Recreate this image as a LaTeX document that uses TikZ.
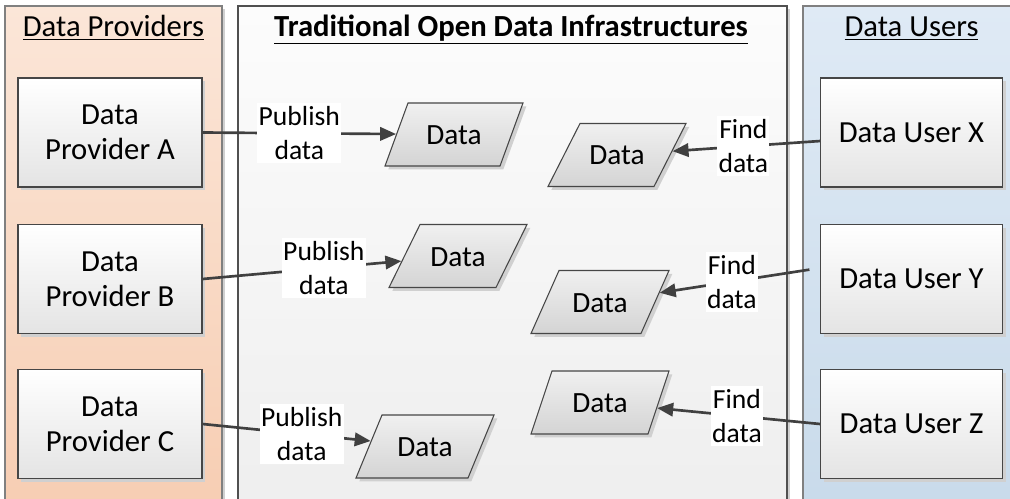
\documentclass[tikz,border=0pt]{standalone}
\usepackage{fontspec}
\setmainfont{Carlito}
\usetikzlibrary{shapes.geometric,arrows.meta,shadows}

\definecolor{linegrey}{RGB}{64,64,64}
\definecolor{edgegrey}{RGB}{70,70,70}
\definecolor{panelgrey}{RGB}{128,128,128}
\definecolor{midedge}{RGB}{80,80,80}
\definecolor{shadowgrey}{RGB}{208,208,208}
\definecolor{provtop}{RGB}{251,230,216}
\definecolor{provbot}{RGB}{247,205,178}
\definecolor{midtop}{RGB}{252,252,252}
\definecolor{midbot}{RGB}{238,238,238}
\definecolor{usertop}{RGB}{223,234,245}
\definecolor{userbot}{RGB}{200,218,234}
\definecolor{boxbot}{RGB}{228,228,228}
\definecolor{datatop}{RGB}{240,240,240}
\definecolor{databot}{RGB}{212,212,212}

\begin{document}
\begin{tikzpicture}[x=0.75pt,y=-0.75pt,
  font=\fontsize{23}{26.25}\selectfont,
  shadowed/.style={drop shadow={shadow xshift=2.5pt, shadow yshift=-2.5pt,
      fill=shadowgrey, opacity=1}},
  panel/.style={draw=panelgrey, line width=0.8pt, shadowed},
  heading/.style={anchor=base, inner sep=0pt},
  actor/.style={rectangle, draw=edgegrey, line width=0.8pt, top color=white,
      bottom color=boxbot, minimum width=#1, minimum height=81.75pt,
      align=center, shadowed},
  % parallelogram: #1 = base angle, #2 = horizontal padding of the body
  datashape/.style 2 args={trapezium, draw=edgegrey, line width=0.8pt,
      trapezium left angle=#1, trapezium right angle={180-#1},
      top color=datatop, bottom color=databot,
      font=\fontsize{22}{26}\selectfont,
      text width=46pt, align=center, text height=15pt, text depth=0pt,
      inner ysep=16.125pt, inner xsep=#2, shadowed},
  conn/.style={draw=linegrey, line width=2pt,
      -{Triangle[length=12pt,width=10pt]}},
  lbl/.style={fill=white, inner xsep=1pt, inner ysep=2.5pt, align=center,
      font=\fontsize{20.7}{25.5}\selectfont}]

\useasboundingbox (0,0) rectangle (1010,499);
\clip (0,0) rectangle (1010,499);

% swim lanes
\draw[panel, top color=provtop, bottom color=provbot] (5,6) rectangle (222,520);
\draw[panel, draw=midedge, top color=midtop, bottom color=midbot] (238,6) rectangle (787,520);
\draw[panel, top color=usertop, bottom color=userbot] (803,6) rectangle (1030,520);

\node[heading] (hprov) at (113.5,37) {\underline{Data Providers}};
\node[heading] (hmid)  at (511,37) {\bfseries\underline{Traditional Open Data Infrastructures}};
\node[heading] (huser) at (911.5,37) {\underline{Data Users}};

% providers and users
\node[actor=138pt] (A) at (110,132.5) {Data\\Provider A};
\node[actor=138pt] (B) at (110,279)   {Data\\Provider B};
\node[actor=138pt] (C) at (110,424)   {Data\\Provider C};
\node[actor=136.5pt] (X) at (911.5,132.5) {Data User X};
\node[actor=136.5pt] (Y) at (911.5,279)   {Data User Y};
\node[actor=136.5pt] (Z) at (911.5,424)   {Data User Z};

% published data sets
\node[datashape={69.95}{11.5pt}]  (P1) at (454,134.5) {Data};
\node[datashape={63.07}{4.75pt}]  (P2) at (617,155)   {Data};
\node[datashape={63.8}{5.5pt}]    (P3) at (458,256)   {Data};
\node[datashape={66.04}{7.75pt}]  (P4) at (600,302)   {Data};
\node[datashape={71.57}{13pt}]    (P5) at (600,402.5) {Data};
\node[datashape={67.57}{9.25pt}]  (P6) at (425,446.5) {Data};

% publishing
\draw[conn] (A.east) -- node[lbl, pos=0.5]  {Publish\\data} (P1);
\draw[conn] (B.east) -- node[lbl, pos=0.61] {Publish\\data} (P3);
\draw[conn] (C.east) -- node[lbl, pos=0.59] {Publish\\data} (P6);

% finding
\draw[conn] ([yshift=-6.4pt]X.west) -- node[lbl, pos=0.52] {Find\\data} (P2);
\draw[conn, shorten <=8pt] ([yshift=8.25pt]Y.west) -- node[lbl, pos=0.55] {Find\\data} (P4);
\draw[conn] (Z.west) -- node[lbl, pos=0.51] {Find\\data} (P5);
\end{tikzpicture}
\end{document}
